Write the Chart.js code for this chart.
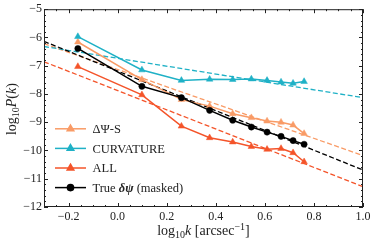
<!DOCTYPE html>
<html>
<head>
<meta charset="utf-8">
<script src="https://cdn.jsdelivr.net/npm/chart.js@4.4.0/dist/chart.umd.min.js"></script>
<style>
html, body { margin: 0; padding: 0; background: #fff; }
</style>
</head>
<body>
<canvas id="powerChart" width="374" height="242"></canvas>
<script>
const logK = [-0.162, 0.099, 0.260, 0.375, 0.469, 0.545, 0.609, 0.666, 0.715, 0.760];
const dpsiS = [-6.16, -7.49, -8.20, -8.43, -8.70, -8.84, -8.96, -9.00, -9.10, -9.40];
const curvature = [-5.97, -7.15, -7.52, -7.48, -7.49, -7.47, -7.52, -7.58, -7.62, -7.56];
const allPk = [-7.03, -8.03, -9.14, -9.55, -9.70, -9.86, -9.96, -9.93, -10.08, -10.40];
const trueMasked = [-6.39, -7.73, -8.13, -8.58, -8.93, -9.17, -9.35, -9.50, -9.65, -9.78];

// power-law fits (dashed)
const fitX = [-0.3, 1.0];
const fitDpsiS = [-6.22, -10.18];
const fitCurv = [-6.32, -8.13];
const fitAll = [-6.86, -11.28];
const fitTrue = [-6.14, -10.69];

const seriesLabels = ['ΔΨ-S', 'CURVATURE', 'ALL', 'True δψ (masked)'];
const xTicks = [-0.2, 0.0, 0.2, 0.4, 0.6, 0.8, 1.0];
const yTicks = [-12, -11, -10, -9, -8, -7, -6, -5];

const C_DPSI = '#f99b66';
const C_CURV = '#1fb1c6';
const C_ALL = '#f4542a';
const C_TRUE = '#000000';
const SERIF = '"Liberation Serif", "DejaVu Serif", serif';

function pts(xs, ys) {
    return xs.map((v, i) => ({ x: v, y: ys[i] }));
}

function solid(label, ys, color, style) {
    return {
        label: label,
        data: pts(logK, ys),
        borderColor: color,
        backgroundColor: color,
        borderWidth: 1.5,
        pointStyle: style,
        pointRadius: style === 'circle' ? 3.1 : 3.8,
        pointBorderWidth: 0.5,
        tension: 0,
    };
}

function dashed(ys, color) {
    return {
        label: '',
        data: pts(fitX, ys),
        borderColor: color,
        borderWidth: 1.3,
        borderDash: [5, 2.5],
        pointRadius: 0,
        tension: 0,
    };
}

const decor = {
    id: 'decor',
    afterDraw(chart) {
        const ctx = chart.ctx;
        const a = chart.chartArea;
        const xs = chart.scales.x, ys = chart.scales.y;
        ctx.save();

        // frame
        ctx.strokeStyle = '#222';
        ctx.lineWidth = 1;
        ctx.strokeRect(a.left + 0.5, a.top + 0.5, a.right - a.left - 1, a.bottom - a.top - 1);

        // inward ticks on all sides
        ctx.beginPath();
        for (let v = -0.3; v <= 1.0001; v += 0.05) {
            const major = xTicks.some(t => Math.abs(t - v) < 1e-6);
            const len = major ? 4 : 2;
            const px = Math.round(xs.getPixelForValue(v)) + 0.5;
            ctx.moveTo(px, a.bottom); ctx.lineTo(px, a.bottom - len);
            ctx.moveTo(px, a.top); ctx.lineTo(px, a.top + len);
        }
        for (let v = -12; v <= -4.999; v += 0.2) {
            const major = Math.abs(v - Math.round(v)) < 1e-6;
            const len = major ? 4 : 2;
            const py = Math.round(ys.getPixelForValue(v)) + 0.5;
            ctx.moveTo(a.left, py); ctx.lineTo(a.left + len, py);
            ctx.moveTo(a.right, py); ctx.lineTo(a.right - len, py);
        }
        ctx.stroke();

        ctx.fillStyle = '#222';
        ctx.textBaseline = 'alphabetic';

        // helper to draw a run of styled pieces
        function run(pieces, x0, y0) {
            let x = x0;
            pieces.forEach(p => {
                ctx.font = p.f;
                ctx.fillText(p.t, x, y0 + (p.dy || 0));
                x += ctx.measureText(p.t).width;
            });
        }
        function width(pieces) {
            let w = 0;
            pieces.forEach(p => { ctx.font = p.f; w += ctx.measureText(p.t).width; });
            return w;
        }
        const rm = '14px ' + SERIF, it = 'italic 14px ' + SERIF, sm = '10px ' + SERIF;

        // x title
        const xt = [
            { t: 'log', f: rm }, { t: '10', f: sm, dy: 3 }, { t: 'k', f: it },
            { t: ' [arcsec', f: rm }, { t: '\u22121', f: sm, dy: -5.5 }, { t: ']', f: rm },
        ];
        const cx = (a.left + a.right) / 2;
        run(xt, cx - width(xt) / 2, 235);

        // y title
        const yt = [
            { t: 'log', f: rm }, { t: '10', f: sm, dy: 3 }, { t: 'P', f: it },
            { t: '(', f: rm }, { t: 'k', f: it }, { t: ')', f: rm },
        ];
        ctx.save();
        ctx.translate(16, (a.top + a.bottom) / 2 + 1);
        ctx.rotate(-Math.PI / 2);
        run(yt, -width(yt) / 2, 0);
        ctx.restore();

        // legend, lower left inside the axes
        const colors = [C_DPSI, C_CURV, C_ALL, C_TRUE];
        const styles = ['triangle', 'triangle', 'triangle', 'circle'];
        const lf = '12.5px ' + SERIF;
        seriesLabels.forEach((lab, i) => {
            const ry = 128.8 + i * 19.6;
            ctx.strokeStyle = colors[i];
            ctx.fillStyle = colors[i];
            ctx.lineWidth = 1.5;
            ctx.beginPath();
            ctx.moveTo(55, ry); ctx.lineTo(86, ry);
            ctx.stroke();
            Chart.helpers.drawPoint(ctx, {
                pointStyle: styles[i], radius: styles[i] === 'circle' ? 3.1 : 3.8,
                rotation: 0, borderWidth: 0.5,
            }, 70.5, ry);
            ctx.fillStyle = '#222';
            let pieces = [{ t: lab, f: lf }];
            const k = lab.indexOf('δψ');
            if (k >= 0) {
                pieces = [
                    { t: lab.slice(0, k), f: lf },
                    { t: 'δψ', f: 'italic bold 12.5px ' + SERIF },
                    { t: lab.slice(k + 2), f: lf },
                ];
            }
            run(pieces, 92.5, ry + 4.4);
        });

        ctx.restore();
    }
};

const ctx = document.getElementById('powerChart').getContext('2d');
new Chart(ctx, {
    type: 'line',
    data: {
        datasets: [
            solid(seriesLabels[3], trueMasked, C_TRUE, 'circle'),
            solid(seriesLabels[2], allPk, C_ALL, 'triangle'),
            solid(seriesLabels[1], curvature, C_CURV, 'triangle'),
            solid(seriesLabels[0], dpsiS, C_DPSI, 'triangle'),
            dashed(fitTrue, C_TRUE),
            dashed(fitAll, C_ALL),
            dashed(fitCurv, C_CURV),
            dashed(fitDpsiS, C_DPSI),
        ],
    },
    options: {
        responsive: false,
        animation: false,
        devicePixelRatio: 1,
        layout: { padding: { left: 0, right: 11, top: 9, bottom: 0 } },
        plugins: { legend: { display: false }, tooltip: { enabled: false } },
        scales: {
            x: {
                type: 'linear',
                min: -0.3,
                max: 1.0,
                afterBuildTicks: s => { s.ticks = xTicks.map(v => ({ value: v })); },
                afterFit: s => { s.height = 35; },
                grid: { display: false, drawTicks: false },
                border: { display: false },
                ticks: {
                    padding: 3,
                    color: '#222',
                    font: { family: SERIF, size: 12 },
                    callback: v => v.toFixed(1).replace('-', '\u2212'),
                },
            },
            y: {
                type: 'linear',
                min: -12,
                max: -5,
                afterBuildTicks: s => { s.ticks = yTicks.map(v => ({ value: v })); },
                afterFit: s => { s.width = 44; },
                grid: { display: false, drawTicks: false },
                border: { display: false },
                ticks: {
                    padding: 2,
                    color: '#222',
                    font: { family: SERIF, size: 12 },
                    callback: v => String(v).replace('-', '\u2212'),
                },
            },
        },
    },
    plugins: [decor],
});
</script>
</body>
</html>
